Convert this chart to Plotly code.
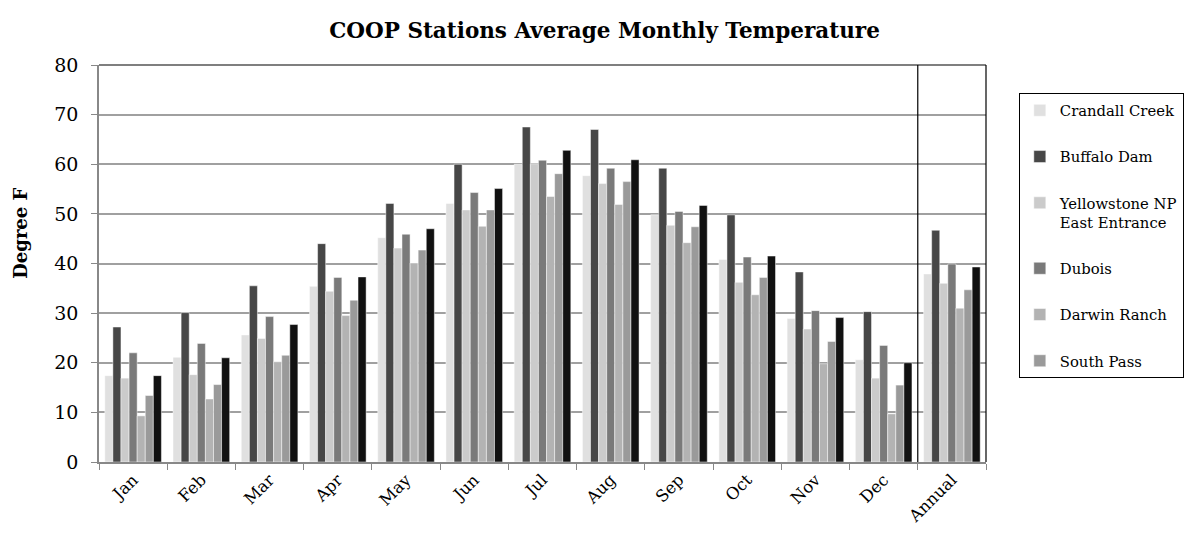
import plotly.graph_objects as go

categories = ["Jan", "Feb", "Mar", "Apr", "May", "Jun", "Jul", "Aug", "Sep", "Oct", "Nov", "Dec", "Annual"]

crandall_creek = [17.4, 21.1, 25.6, 35.4, 45.2, 52.1, 60.0, 57.7, 49.8, 40.8, 28.9, 20.6, 37.9]
buffalo_dam = [27.2, 30.1, 35.5, 44.0, 52.1, 60.0, 67.5, 67.0, 59.2, 49.8, 38.3, 30.3, 46.7]
yellowstone_east = [16.9, 17.6, 24.9, 34.4, 43.1, 50.8, 60.1, 56.1, 47.7, 36.2, 26.8, 16.9, 36.0]
dubois = [22.0, 23.9, 29.3, 37.2, 45.9, 54.3, 60.8, 59.2, 50.5, 41.3, 30.5, 23.5, 39.9]
darwin_ranch = [9.3, 12.7, 20.2, 29.5, 40.1, 47.5, 53.5, 51.9, 44.2, 33.7, 19.8, 9.7, 31.0]
south_pass = [13.4, 15.6, 21.5, 32.6, 42.7, 50.8, 58.1, 56.5, 47.4, 37.2, 24.3, 15.5, 34.7]
series7 = [17.4, 21.0, 27.7, 37.3, 47.0, 55.1, 62.8, 60.9, 51.7, 41.5, 29.1, 20.0, 39.3]

series = [
    ("Crandall Creek", crandall_creek, "#e0e0e0", True),
    ("Buffalo Dam", buffalo_dam, "#474747", True),
    ("Yellowstone NP<br>East Entrance", yellowstone_east, "#cbcbcb", True),
    ("Dubois", dubois, "#7a7a7a", True),
    ("Darwin Ranch", darwin_ranch, "#b3b3b3", True),
    ("South Pass", south_pass, "#9a9a9a", True),
    ("Series7", series7, "#111111", False),
]

FONT = "DejaVu Serif"

fig = go.Figure()
for i, (name, vals, color, show) in enumerate(series):
    fig.add_trace(go.Bar(
        x=categories, y=vals, name=name,
        marker=dict(color=color, line=dict(color="rgba(255,255,255,0.8)", width=0.6)),
        showlegend=show, legendgroup=f"g{i}",
    ))

fig.update_layout(
    width=1189, height=542,
    margin=dict(l=91, r=211, t=57, b=88),
    paper_bgcolor="white", plot_bgcolor="white",
    barmode="group", bargap=0.17, bargroupgap=0,
    font=dict(family=FONT, color="black"),
    title=dict(text="<b>COOP Stations Average Monthly Temperature</b>",
               x=0.5017, xanchor="center", y=0.958, yanchor="middle",
               font=dict(family=FONT, size=21.5, color="black")),
    legend=dict(x=1.037, y=0.929, xanchor="left", yanchor="top",
                bordercolor="black", borderwidth=1, bgcolor="white",
                font=dict(family=FONT, size=14.8, color="black"),
                traceorder="grouped", tracegroupgap=24, valign="top"),
    xaxis=dict(
        type="category", tickangle=-45, tickson="boundaries",
        ticks="outside", ticklen=6, tickcolor="#888888", tickwidth=1,
        showline=True, linecolor="#888888", linewidth=1.5,
        tickfont=dict(family=FONT, size=16.5, color="black"),
        showgrid=False,
    ),
    yaxis=dict(
        range=[0, 80], dtick=10, tick0=0,
        ticks="outside", ticklen=6, tickcolor="#888888", tickwidth=1,
        showline=True, linecolor="#888888", linewidth=1.5,
        gridcolor="#a0a0a0", gridwidth=1.5,
        tickfont=dict(family=FONT, size=19, color="black"),
        ticklabelstandoff=9,
        zeroline=False,
    ),
)

fig.add_annotation(text="<b>Degree F</b>", xref="paper", yref="paper",
                   x=-0.0879, y=0.575, textangle=-90, showarrow=False,
                   xanchor="center", yanchor="middle",
                   font=dict(family=FONT, size=18, color="black"))

# plot frame (top & right) and separator before Annual
fig.add_shape(type="line", xref="paper", yref="paper", x0=0, x1=1, y0=1, y1=1,
              line=dict(color="black", width=1.2))
fig.add_shape(type="line", xref="paper", yref="paper", x0=1, x1=1, y0=0, y1=1,
              line=dict(color="black", width=1.2))
fig.add_shape(type="line", xref="x", yref="paper", x0=11.5, x1=11.5, y0=0, y1=1,
              line=dict(color="black", width=1.2))

fig.write_html("out.html")
